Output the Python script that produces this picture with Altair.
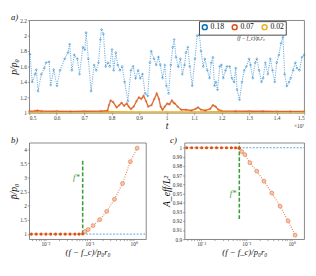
import altair as alt
import pandas as pd

SERIF = "Liberation Serif"

# ---------------- panel a : p/p0 vs t ----------------
blue_t = [0.503, 0.511, 0.521, 0.526, 0.532, 0.544, 0.555, 0.561, 0.572, 0.578,
          0.589, 0.601, 0.612, 0.629, 0.641, 0.647, 0.655, 0.664, 0.675, 0.683,
          0.695, 0.702, 0.707, 0.715, 0.725, 0.736, 0.744, 0.752, 0.759, 0.763,
          0.770, 0.778, 0.786, 0.793, 0.801, 0.807, 0.815, 0.822, 0.830, 0.838,
          0.847, 0.859, 0.870, 0.878, 0.887, 0.896, 0.904, 0.912, 0.922, 0.931,
          0.939, 0.944, 0.954, 0.962, 0.970, 0.977, 0.985, 0.993, 0.999, 1.007,
          1.015, 1.022, 1.027, 1.034, 1.042, 1.050, 1.057, 1.065, 1.070, 1.077,
          1.084, 1.093, 1.103, 1.111, 1.119, 1.125, 1.133, 1.139, 1.148, 1.156,
          1.162, 1.168, 1.174, 1.179, 1.185, 1.193, 1.199, 1.206, 1.214, 1.219,
          1.229, 1.237, 1.245, 1.251, 1.256, 1.265, 1.274, 1.282, 1.290, 1.300,
          1.305, 1.313, 1.322, 1.328, 1.336, 1.345, 1.351, 1.359, 1.368, 1.377,
          1.385, 1.393, 1.400, 1.408, 1.416, 1.423, 1.429, 1.437, 1.445, 1.451,
          1.460, 1.468, 1.474, 1.483, 1.492, 1.500]
blue_p = [1.76, 1.40, 1.50, 1.56, 1.28, 1.50, 1.58, 1.65, 1.66, 1.36,
          1.56, 1.35, 1.55, 1.70, 1.78, 1.89, 1.55, 1.75, 1.70, 1.50,
          1.85, 1.82, 2.04, 1.70, 1.28, 1.62, 1.55, 1.65, 1.95, 2.08,
          2.02, 1.60, 1.65, 1.60, 1.82, 1.55, 1.78, 1.62, 1.55, 1.60,
          1.40, 1.15, 1.55, 1.60, 1.45, 1.55, 1.45, 1.50, 1.25, 1.22,
          1.65, 1.80, 1.70, 1.62, 1.72, 1.62, 1.45, 1.62, 1.35, 1.25,
          1.62, 1.85, 1.95, 1.72, 1.60, 1.70, 1.50, 1.62, 1.78, 1.85,
          1.60, 1.35, 1.70, 2.00, 2.01, 1.80, 1.60, 1.70, 1.55, 1.45,
          1.65, 1.72, 1.35, 1.40, 1.30, 1.60, 1.62, 1.45, 1.55, 1.60,
          1.60, 1.45, 1.40, 1.58, 1.30, 1.17, 1.40, 1.55, 1.60, 1.70,
          1.62, 1.45, 1.65, 1.70, 1.55, 1.40, 1.45, 1.65, 1.50, 1.70,
          1.55, 1.40, 1.65, 1.75, 1.90, 1.98, 1.50, 1.35, 1.40, 1.45,
          1.55, 1.65, 1.58, 1.55, 1.72, 1.75]

orange_t = [0.500, 0.520, 0.530, 0.545, 0.600, 0.650, 0.700, 0.760, 0.785, 0.790,
            0.796, 0.805, 0.818, 0.828, 0.836, 0.845, 0.855, 0.862, 0.870, 0.880,
            0.890, 0.899, 0.908, 0.916, 0.925, 0.933, 0.945, 0.955, 0.964, 0.972,
            0.978, 0.985, 0.993, 1.002, 1.010, 1.019, 1.025, 1.030, 1.040, 1.053,
            1.070, 1.090, 1.105, 1.114, 1.125, 1.140, 1.158, 1.168, 1.178, 1.188,
            1.200, 1.250, 1.300, 1.350, 1.400, 1.450, 1.500]
orange_p = [1.020, 1.025, 1.030, 1.022, 1.020, 1.018, 1.020, 1.022, 1.030, 1.100,
            1.160, 1.140, 1.070, 1.100, 1.130, 1.090, 1.120, 1.080, 1.050, 1.080,
            1.150, 1.200, 1.180, 1.220, 1.150, 1.080, 1.100, 1.180, 1.250, 1.180,
            1.080, 1.040, 1.080, 1.120, 1.110, 1.160, 1.130, 1.120, 1.080, 1.040,
            1.040, 1.030, 1.050, 1.070, 1.040, 1.030, 1.050, 1.100, 1.080, 1.040,
            1.025, 1.022, 1.020, 1.020, 1.018, 1.018, 1.018]

yellow_t = [0.50, 0.60, 0.70, 0.80, 0.90, 1.00, 1.10, 1.20, 1.30, 1.40, 1.50]
yellow_p = [1.010, 1.011, 1.010, 1.012, 1.011, 1.010, 1.011, 1.012, 1.010, 1.011, 1.010]

series_labels = ["0.18", "0.07", "0.02"]
series_colors = ["#0072BD", "#D95319", "#EDB120"]
a_xticks = [0.5, 0.6, 0.7, 0.8, 0.9, 1.0, 1.1, 1.2, 1.3, 1.4, 1.5]
a_yticks = [1.0, 1.2, 1.4, 1.6, 1.8, 2.0, 2.2]

# ---------------- panels b, c ----------------
fx_flat = [0.0048, 0.0062, 0.0080, 0.0103, 0.0132, 0.0170, 0.0219, 0.0282,
           0.0363, 0.0467, 0.0580, 0.0700]
fx_rise = [0.079, 0.093, 0.120, 0.170, 0.245, 0.367, 0.560, 0.840, 1.200]
pbar_flat = [1.00, 1.00, 1.00, 1.00, 1.00, 1.00, 1.00, 1.00, 1.00, 1.00, 1.00, 1.01]
pbar_rise = [1.09, 1.16, 1.30, 1.51, 1.80, 2.23, 2.79, 3.56, 4.04]
aeff_flat = [1.0, 1.0, 1.0, 1.0, 1.0, 1.0, 1.0, 1.0, 1.0, 1.0, 1.0, 0.9995]
aeff_rise = [0.9958, 0.9925, 0.9836, 0.9744, 0.9635, 0.9504, 0.9360, 0.9200, 0.9044]
f_star = 0.07
b_yticks = [1.0, 1.5, 2.0, 2.5, 3.0, 3.5, 4.0]
c_yticks = [0.90, 0.91, 0.92, 0.93, 0.94, 0.95, 0.96, 0.97, 0.98, 0.99, 1.00]
log_ticks = [0.005, 0.006, 0.007, 0.008, 0.009, 0.01, 0.02, 0.03, 0.04, 0.05, 0.06,
             0.07, 0.08, 0.09, 0.1, 0.2, 0.3, 0.4, 0.5, 0.6, 0.7, 0.8, 0.9, 1.0]

XT = "(f − f_c)/p₀r₀"
GREEN = "#3a9d3a"
LBLUE = "#4DA3DD"

# ---------------- build panel a ----------------
df_a = pd.concat([
    pd.DataFrame({"t": blue_t, "p": blue_p, "series": series_labels[0]}),
    pd.DataFrame({"t": orange_t, "p": orange_p, "series": series_labels[1]}),
    pd.DataFrame({"t": yellow_t, "p": yellow_p, "series": series_labels[2]}),
], ignore_index=True)

WA, HA = 285, 96
x_a = alt.X("t:Q", scale=alt.Scale(domain=[0.5, 1.5], nice=False, zero=False),
            axis=alt.Axis(values=a_xticks, format="~g", title="t", titlePadding=0))
y_a = alt.Y("p:Q", scale=alt.Scale(domain=[1.0, 2.2], nice=False, zero=False),
            axis=alt.Axis(values=a_yticks, format="~g", title="p/p₀", titlePadding=1,
                          labelOverlap=False))

base_a = alt.Chart(df_a)
blue_line = base_a.transform_filter(alt.datum.series == "0.18").mark_line(
    color="#5ba2dc", strokeWidth=1.1, strokeDash=[1.2, 1.2], opacity=0.85).encode(x=x_a, y=y_a)
orange_line = base_a.transform_filter(alt.datum.series == "0.07").mark_line(
    color="#D95319", strokeWidth=1.4, opacity=0.85).encode(x=x_a, y=y_a)
yellow_line = base_a.transform_filter(alt.datum.series == "0.02").mark_line(
    color="#EDB120", strokeWidth=1.6).encode(x=x_a, y=y_a)
pts_a = base_a.mark_point(filled=False, size=3, strokeWidth=0.8, opacity=0.6).encode(
    x=x_a, y=y_a,
    color=alt.Color("series:N", scale=alt.Scale(domain=series_labels, range=series_colors),
                    legend=alt.Legend(title=None, orient="none", legendX=176, legendY=1,
                                      direction="horizontal", symbolType="circle",
                                      symbolSize=26, symbolStrokeWidth=1.5, symbolOpacity=1,
                                      labelFont=SERIF, labelFontSize=8, labelColor="#111",
                                      strokeColor="#444", fillColor="white", padding=2,
                                      columnPadding=5, labelOffset=2)))

note_a = alt.Chart(pd.DataFrame({"s": [XT]})).mark_text(
    font=SERIF, fontSize=5.5, fontStyle="italic", color="#222").encode(
    x=alt.value(230), y=alt.value(19), text="s:N")
exp_a = alt.Chart(pd.DataFrame({"s": ["×10⁷"]})).mark_text(
    font=SERIF, fontSize=5.5, align="right", color="#333").encode(
    x=alt.value(WA), y=alt.value(HA + 14), text="s:N")
lab_a = alt.Chart(pd.DataFrame({"s": ["a)"]})).mark_text(
    font=SERIF, fontSize=9, fontStyle="italic", align="left", color="#111").encode(
    x=alt.value(-19), y=alt.value(-3), text="s:N")

panel_a = alt.layer(yellow_line, orange_line, blue_line, pts_a, note_a, exp_a, lab_a).properties(
    width=WA, height=HA)

# ---------------- helper for b, c ----------------
log_label = ("datum.value == 0.01 ? '10⁻²' : (datum.value == 0.1 ? '10⁻¹' : "
             "(datum.value == 1 ? '10⁰' : ''))")


def small_panel(yflat, yrise, ydom, yticks, ytitle, W, H, g_lo, g_hi, label_y, tag, tagx):
    df = pd.DataFrame({"x": fx_flat + fx_rise, "y": yflat + yrise,
                       "phase": ["flat"] * len(fx_flat) + ["rise"] * len(fx_rise)})
    xe = alt.X("x:Q", scale=alt.Scale(type="log", domain=[0.0043, 1.9], nice=False),
               axis=alt.Axis(values=log_ticks, labelExpr=log_label, title=XT,
                             titleFontSize=9, titlePadding=1, tickSize=1.5))
    ye = alt.Y("y:Q", scale=alt.Scale(domain=ydom, nice=False, zero=False),
               axis=alt.Axis(values=yticks, format="~g", title=ytitle, titlePadding=1,
                             labelOverlap=False))
    hline = alt.Chart(pd.DataFrame({"x": [f_star], "y": [1.0]})).mark_rule(
        color=LBLUE, strokeDash=[2, 1.5], strokeWidth=1).encode(
        x=xe, x2=alt.value(W), y=ye)
    green = alt.Chart(pd.DataFrame({"x": [f_star], "y": [g_lo], "y2": [g_hi]})).mark_rule(
        color=GREEN, strokeDash=[4, 2], strokeWidth=1.6).encode(x=xe, y=ye, y2=alt.Y2("y2:Q"))
    line = alt.Chart(df).mark_line(color="#E8875A", strokeDash=[1, 1.5], strokeWidth=1.2).encode(x=xe, y=ye)
    pf = alt.Chart(df).transform_filter(alt.datum.phase == "flat").mark_point(
        shape="circle", filled=True, size=11, color="#D95319", opacity=1).encode(x=xe, y=ye)
    pr = alt.Chart(df).transform_filter(alt.datum.phase == "rise").mark_point(
        shape="circle", filled=True, size=16, fill="#F6C3A8", stroke="#E27A4C",
        strokeWidth=0.8, opacity=0.9).encode(x=xe, y=ye)
    fs = alt.Chart(pd.DataFrame({"x": [f_star], "y": [label_y], "s": ["f*"]})).mark_text(
        font=SERIF, fontSize=9, fontStyle="italic", color=GREEN, align="right", dx=-3).encode(
        x=xe, y=ye, text="s:N")
    tg = alt.Chart(pd.DataFrame({"s": [tag]})).mark_text(
        font=SERIF, fontSize=9, fontStyle="italic", align="left", color="#111").encode(
        x=alt.value(tagx), y=alt.value(-3), text="s:N")
    return alt.layer(line, hline, green, pf, pr, fs, tg).properties(width=W, height=H)


panel_b = small_panel(pbar_flat, pbar_rise, [0.82, 4.23], b_yticks, "p̄/p₀", 121, 100,
                      1.0, 3.6, 3.0, "b)", -19)
panel_c = small_panel(aeff_flat, aeff_rise, [0.9, 1.0055], c_yticks, "A_eff/L²", 124, 100,
                      0.922, 1.0055, 0.95, "c)", -15)

chart = alt.vconcat(
    panel_a,
    alt.hconcat(panel_b, panel_c, spacing=14),
    spacing=4,
).properties(padding=0).configure_axis(
    grid=False, domain=False, labelFont=SERIF, labelFontSize=5.5, labelColor="#333",
    labelPadding=1, labelOverlap=False, tickSize=2, tickColor="#666", tickWidth=0.6,
    titleFont=SERIF, titleFontSize=10, titleFontStyle="italic", titleFontWeight="normal",
    titleColor="#111",
).configure_view(stroke="#666", strokeWidth=0.8)

chart.save("out.html", embed_options={"renderer": "svg", "actions": False})
